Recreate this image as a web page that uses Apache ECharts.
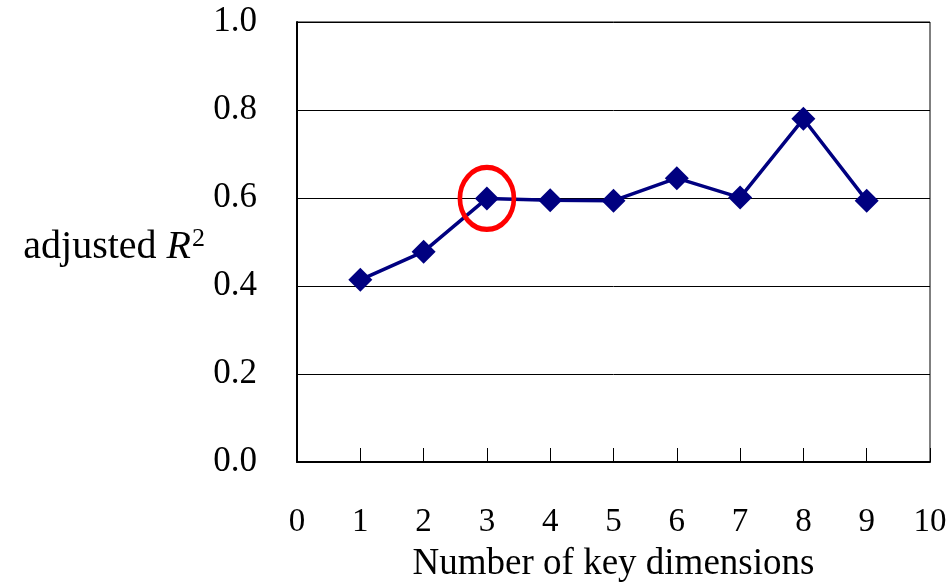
<!DOCTYPE html>
<html>
<head>
<meta charset="utf-8">
<script src="https://cdn.jsdelivr.net/npm/echarts@6/dist/echarts.min.js"></script>
<style>
  html, body { margin: 0; padding: 0; background: #fff; }
  #main { width: 950px; height: 584px; }
</style>
</head>
<body>
<div id="main"></div>
<script>
// number of key dimensions vs adjusted R^2
var dims = [1, 2, 3, 4, 5, 6, 7, 8, 9];
var adjR2 = [0.414, 0.478, 0.599, 0.595, 0.594, 0.645, 0.601, 0.780, 0.594];
var xTicks = [0, 1, 2, 3, 4, 5, 6, 7, 8, 9, 10];
var yTicks = [0.0, 0.2, 0.4, 0.6, 0.8, 1.0];
var chosen = 3; // highlighted point

var font = '"Liberation Serif", "Times New Roman", serif';
var lineData = dims.map(function (d, i) { return [d, adjR2[i]]; });

var chart = echarts.init(document.getElementById('main'));
chart.setOption({
    animation: false,
    backgroundColor: '#fff',
    grid: {
        left: 297, right: 20, top: 22, bottom: 122,
        outerBoundsMode: 'none',
        show: true, borderColor: '#000', borderWidth: 1, backgroundColor: 'transparent'
    },
    xAxis: {
        type: 'value',
        min: xTicks[0],
        max: xTicks[xTicks.length - 1],
        interval: 1,
        name: 'Number of key dimensions',
        nameLocation: 'middle',
        nameGap: 84,
        nameTextStyle: { fontFamily: font, fontSize: 37, color: '#000' },
        axisLine: { show: true, lineStyle: { color: '#000', width: 2 } },
        axisTick: { show: true, inside: true, length: 14, lineStyle: { color: '#000', width: 1 } },
        axisLabel: { margin: 44, fontFamily: font, fontSize: 33, color: '#000' },
        splitLine: { show: false }
    },
    yAxis: {
        type: 'value',
        min: yTicks[0],
        max: yTicks[yTicks.length - 1],
        interval: 0.2,
        name: '{a|adjusted }{r|R}{s|2}',
        nameLocation: 'middle',
        nameRotate: 0,
        nameGap: 92,
        nameTextStyle: {
            padding: [10, 0, 0, 0],
            rich: {
                a: { fontFamily: font, fontSize: 40, color: '#000' },
                r: { fontFamily: font, fontSize: 40, fontStyle: 'italic', color: '#000' },
                s: { fontFamily: font, fontSize: 26, color: '#000', padding: [0, 0, 16, 1] }
            }
        },
        axisLine: { show: true, lineStyle: { color: '#000', width: 2 } },
        axisTick: { show: true, inside: true, length: 13, lineStyle: { color: '#000', width: 1 } },
        axisLabel: {
            margin: 40, fontFamily: font, fontSize: 35, color: '#000',
            formatter: function (v) { return v.toFixed(1); }
        },
        splitLine: { show: true, lineStyle: { color: '#000', width: 1 } }
    },
    series: [{
        type: 'line',
        data: lineData,
        symbol: 'diamond',
        symbolSize: 24,
        lineStyle: { color: '#000080', width: 3.5 },
        itemStyle: { color: '#000080' },
        markPoint: {
            symbol: 'circle',
            symbolSize: [54, 62],
            silent: true,
            label: { show: false },
            itemStyle: { color: 'rgba(0,0,0,0)', borderColor: '#ff0000', borderWidth: 5 },
            data: [{ coord: [chosen, adjR2[dims.indexOf(chosen)]] }]
        }
    }]
});
</script>
</body>
</html>
